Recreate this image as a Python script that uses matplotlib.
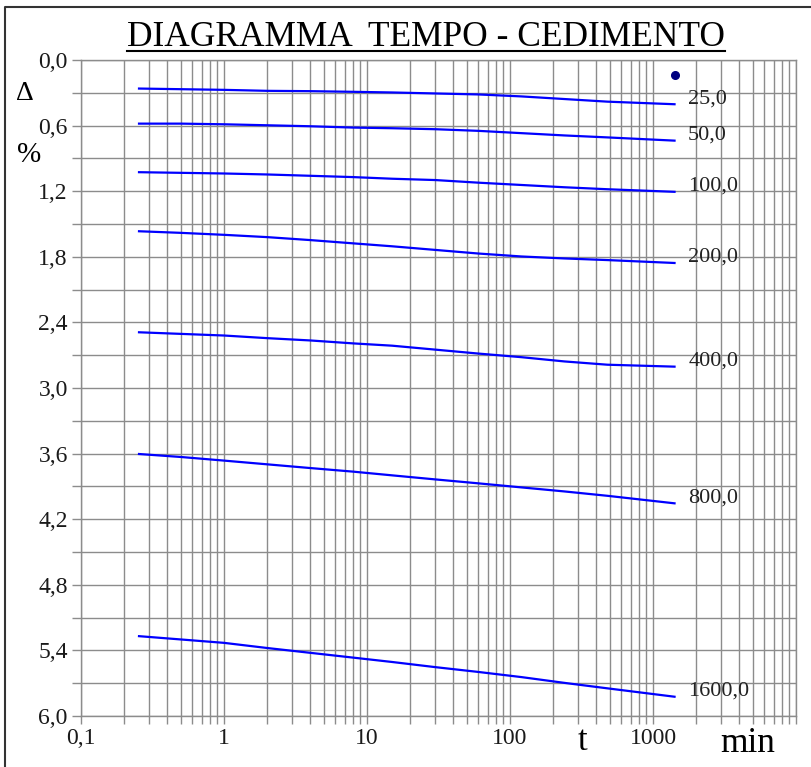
import matplotlib
matplotlib.use('Agg')
import matplotlib.pyplot as plt
from matplotlib.lines import Line2D
from matplotlib.ticker import FixedLocator, FuncFormatter, NullFormatter, MultipleLocator

plt.rcParams['font.family'] = ['Liberation Serif', 'DejaVu Serif']

# tempi di lettura (min)
times = [0.25, 0.5, 1, 2, 4, 8, 15, 30, 60, 120, 240, 480, 1440]

# cedimenti (%) per ogni gradino di carico
load_labels = ['25,0', '50,0', '100,0', '200,0', '400,0', '800,0', '1600,0']
ced_25 = [0.261, 0.267, 0.273, 0.282, 0.285, 0.291, 0.297, 0.306, 0.315, 0.333, 0.357, 0.381, 0.405]
ced_50 = [0.582, 0.582, 0.588, 0.597, 0.606, 0.618, 0.624, 0.633, 0.648, 0.669, 0.690, 0.708, 0.738]
ced_100 = [1.026, 1.032, 1.038, 1.047, 1.059, 1.071, 1.086, 1.098, 1.122, 1.143, 1.164, 1.182, 1.206]
ced_200 = [1.566, 1.581, 1.599, 1.620, 1.647, 1.677, 1.704, 1.737, 1.770, 1.797, 1.815, 1.830, 1.857]
ced_400 = [2.490, 2.505, 2.520, 2.544, 2.565, 2.592, 2.613, 2.649, 2.685, 2.718, 2.757, 2.787, 2.805]
ced_800 = [3.603, 3.631, 3.664, 3.698, 3.732, 3.765, 3.799, 3.836, 3.872, 3.909, 3.946, 3.986, 4.056]
ced_1600 = [5.269, 5.300, 5.331, 5.378, 5.422, 5.466, 5.506, 5.553, 5.597, 5.644, 5.697, 5.747, 5.825]
series = [ced_25, ced_50, ced_100, ced_200, ced_400, ced_800, ced_1600]

# punto isolato in alto a destra
dot_t = 1420
dot_v = 0.137

x_ticks = [0.1, 1, 10, 100, 1000, 10000]
x_tick_labels = ['0,1', '1', '10', '100', '1000', '']

fig = plt.figure(figsize=(8.12, 7.67), dpi=100)
ax = fig.add_axes([81/812, 1-716/767, 715/812, 656/767])

grid_col = '#8c8c8c'
for vals, lab in zip(series, load_labels):
    ax.plot(times, vals, color='#0000ff', lw=1.6, solid_capstyle='butt')
    ax.annotate(lab, xy=(times[-1], vals[-1]), xytext=(9, 4), textcoords='offset points',
                fontsize=16, va='center', ha='left', color='#222222')

ax.plot([dot_t], [dot_v], 'o', color='#000080', ms=5.5)

ax.set_xscale('log')
ax.set_xlim(0.1, 10000)
ax.set_ylim(6.0, 0.0)

ax.xaxis.set_major_locator(FixedLocator(x_ticks))
ax.xaxis.set_major_formatter(FuncFormatter(lambda v, p: x_tick_labels[p] if p is not None and p < len(x_tick_labels) else ''))
minor = [m * 10.0 ** e for e in range(-1, 4) for m in range(2, 10)]
ax.xaxis.set_minor_locator(FixedLocator(minor))
ax.xaxis.set_minor_formatter(NullFormatter())

ax.yaxis.set_major_locator(MultipleLocator(0.6))
ax.yaxis.set_minor_locator(MultipleLocator(0.3))
ax.yaxis.set_major_formatter(FuncFormatter(lambda v, p: ('%.1f' % v).replace('.', ',')))

ax.grid(True, which='both', color=grid_col, lw=1.0)
ax.set_axisbelow(True)
for s in ax.spines.values():
    s.set_color(grid_col)
    s.set_linewidth(1.0)

ax.tick_params(axis='both', which='both', color=grid_col, width=1.0, labelsize=17,
               labelcolor='#1a1a1a')
ax.tick_params(axis='x', which='both', length=6, pad=3)
ax.tick_params(axis='y', which='both', length=6.5, pad=3)

# simboli degli assi
fig.text(25/812, 1-93/767, '\u0394', fontsize=20, ha='center', va='center')
fig.text(29/812, 1-155/767, '%', fontsize=21, ha='center', va='center')
fig.text(583/812, 1-742/767, 't', fontsize=25, ha='center', va='center')
fig.text(748/812, 1-743/767, 'min', fontsize=25.5, ha='center', va='center')

# titolo sottolineato
title = fig.text(426/812, 1-37/767, 'DIAGRAMMA  TEMPO - CEDIMENTO', fontsize=25.5,
                 ha='center', va='center')
fig.canvas.draw()
bb = title.get_window_extent().transformed(fig.transFigure.inverted())
fig.add_artist(Line2D([bb.x0, bb.x1], [1-51/767, 1-51/767], color='black', lw=1.5,
                      transform=fig.transFigure))

# cornice esterna
fig.add_artist(Line2D([5/812, 5/812, 1.0], [0.0, 1-7/767, 1-7/767], color='#333333', lw=1.5,
                      transform=fig.transFigure))

fig.savefig('out.png', dpi=100)
